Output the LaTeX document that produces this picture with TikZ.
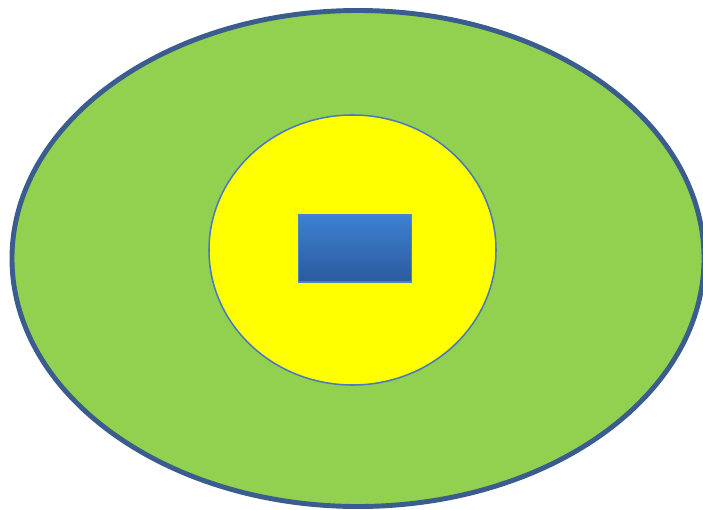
\documentclass[tikz,border=0pt]{standalone}
\usepackage{tikz}
\usetikzlibrary{shapes.geometric}
\definecolor{outergreen}{HTML}{92D050}
\definecolor{outerrim}{HTML}{3B5C8E}
\definecolor{inneryellow}{HTML}{FFFF00}
\definecolor{innerrim}{HTML}{4A78C0}
\definecolor{boxtop}{HTML}{3D80D2}
\definecolor{boxbottom}{HTML}{2B5B9C}
\definecolor{boxrim}{HTML}{4D82C8}

\begin{document}
\begin{tikzpicture}[
    x=0.03cm, y=-0.03cm,
    outerring/.style={draw=outerrim, line width=4.2pt, fill=outergreen, ellipse, inner sep=0pt, minimum width=20.76cm, minimum height=14.88cm},
    innerring/.style={draw=innerrim, line width=1.3pt, fill=inneryellow, ellipse, inner sep=0pt, minimum width=8.61cm, minimum height=8.1cm},
    corebox/.style={draw=boxrim, line width=1.4pt, top color=boxtop, bottom color=boxbottom, inner sep=0pt, minimum width=3.39cm, minimum height=2.01cm}
]
    \useasboundingbox (0,0) rectangle (703,510);

    % rings
    \node[outerring] (outer) at (358, 258.5) {};
    \node[innerring] (inner) at (352.5, 250) {};

    % centre box
    \node[corebox] (core) at (355, 248.5) {};
\end{tikzpicture}
\end{document}
